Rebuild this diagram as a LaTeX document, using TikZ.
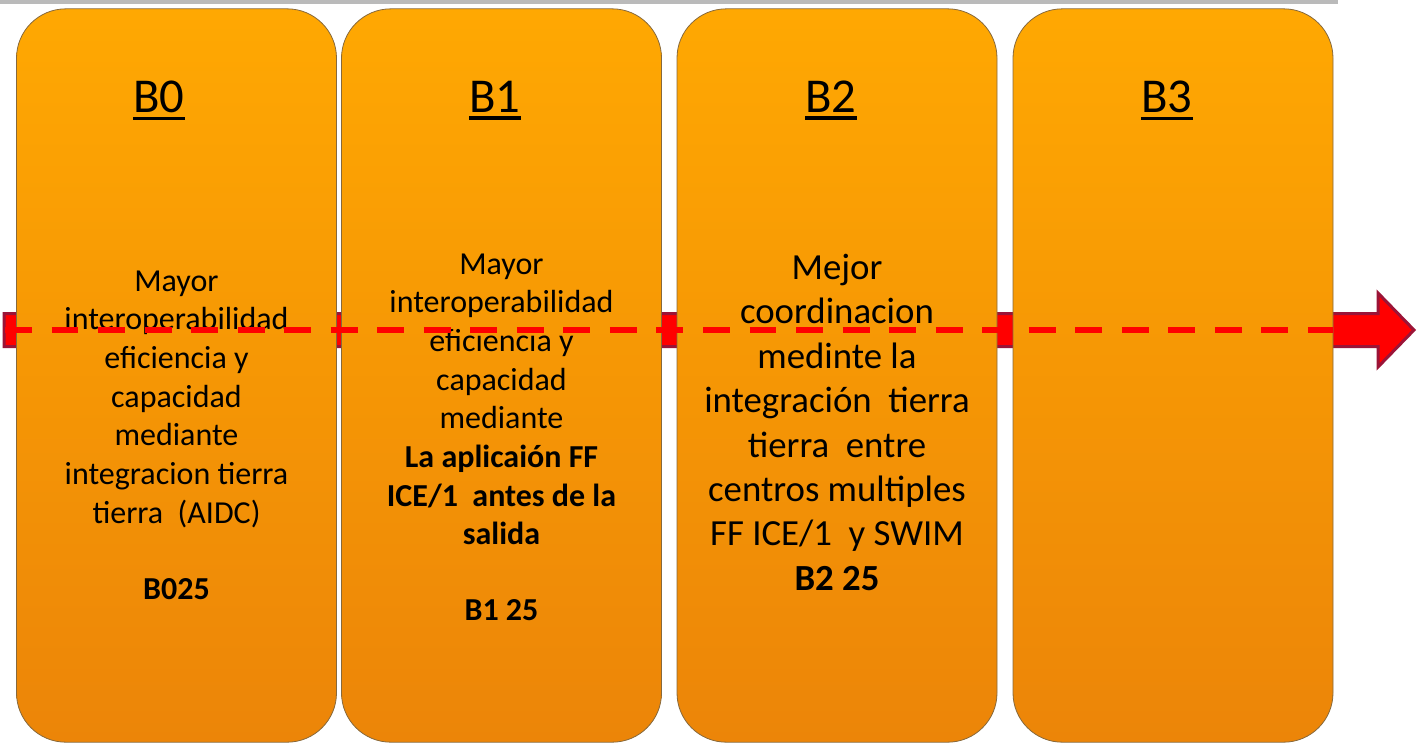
\documentclass[tikz,border=0pt]{standalone}
\usepackage{fontspec}
\setmainfont{Carlito}
\usetikzlibrary{positioning}
\definecolor{naranjaA}{RGB}{255,168,2}
\definecolor{naranjaB}{RGB}{236,133,8}
\definecolor{borde}{RGB}{135,105,60}
\definecolor{rojoF}{RGB}{255,0,0}
\definecolor{bordeF}{RGB}{155,20,55}
\newcommand{\subrayado}[1]{\leavevmode\vtop{\hbox{#1}\kern3.3pt\hrule height 2.6pt}}
\tikzset{bloque/.style={draw=borde, line width=0.6pt, rounded corners=37pt,
                        top color=naranjaA, bottom color=naranjaB,
                        minimum width=240pt, minimum height=550pt, inner sep=0pt},
         titulo/.style={font=\fontsize{36.5}{42}\selectfont, inner sep=0pt, anchor=base},
         texto/.style={align=center, inner sep=0pt, anchor=north, font=\fontsize{24}{29}\selectfont},
         textoG/.style={align=center, inner sep=0pt, anchor=north, font=\fontsize{27.6}{33.3}\selectfont},
         guion/.style={draw=rojoF, line width=4.5pt, dash pattern=on 20.2pt off 14.7pt},
        }

\begin{document}
\begin{tikzpicture}[x=0.75pt,y=-0.75pt]
        \useasboundingbox (0,0) rectangle (1418,744);
        \fill[black!27] (0,0) rectangle (1338,3.5);

        % flecha de fondo
        \coordinate (inicio) at (4,330);
        \coordinate (punta) at (1414,330);
        \draw[fill=rojoF, draw=bordeF, line width=2.25pt, line join=miter]
            (4,313.5) -- (1378,313.5) -- (1378,293) -- (punta)
            -- (1378,367) -- (1378,346.5) -- (4,346.5) -- cycle;

        % bloques
        \node[bloque](b0)at(176.5,375.5){};
        \node[bloque](b1)at(501.5,375.5){};
        \node[bloque](b2)at(837,375.5){};
        \node[bloque](b3)at(1173,375.5){};

        \node[titulo](t0)at(159,112){\subrayado{B0}};
        \node[titulo](t1)at(495,112){\subrayado{B1}};
        \node[titulo](t2)at(831,112){\subrayado{B2}};
        \node[titulo](t3)at(1167,112){\subrayado{B3}};

        \node[texto](x0)at(176.5,270.5){Mayor\\ interoperabilidad\\ eficiencia y\\ capacidad\\ mediante\\ integracion tierra\\ tierra\ \ (AIDC)\\[28pt] \textbf{B025}};
        \node[texto](x1)at(501.5,253.5){Mayor\\ interoperabilidad\\ eficiencia y\\ capacidad\\ mediante\\ \textbf{La aplicaión FF}\\ \textbf{ICE/1\ \ antes de la}\\ \textbf{salida}\\[28pt] \textbf{B1 25}};
        \node[textoG](x2)at(837,254){Mejor\\ coordinacion\\ medinte la\\ integración\ \ tierra\\ tierra\ \ entre\\ centros multiples\\ FF ICE/1\ \ y SWIM\\ \textbf{B2 25}};

        % linea discontinua
        \coordinate (g0) at (5,330);
        \coordinate (g1) at (1333,330);
        \draw[guion](g0)--(g1);
\end{tikzpicture}
\end{document}
